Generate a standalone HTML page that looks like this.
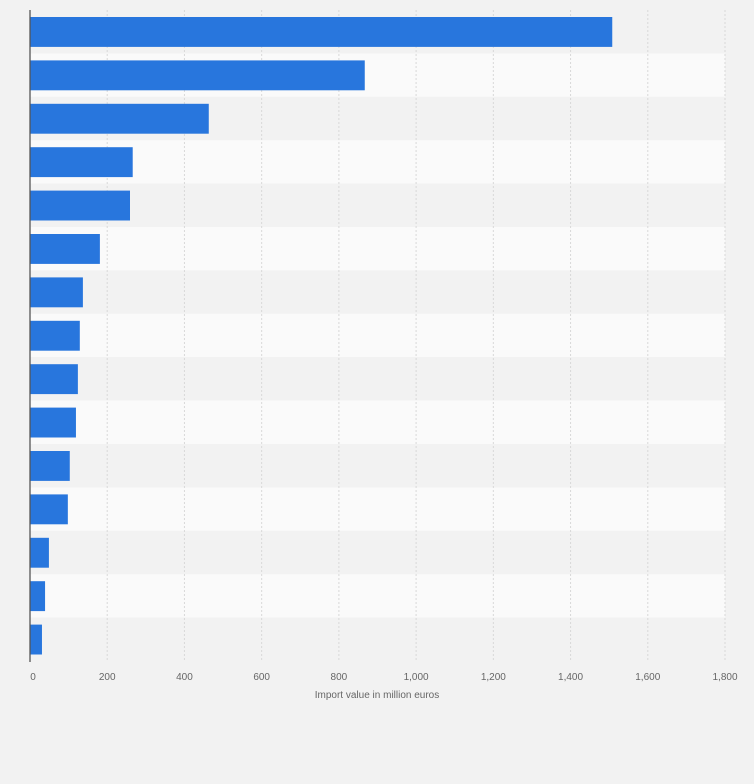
<!DOCTYPE html>
<html><head><meta charset="utf-8"><style>
body{margin:0;background:#f2f2f2;font-family:"Liberation Sans",sans-serif}
</style></head><body>
<svg id="c" width="754" height="779" xmlns="http://www.w3.org/2000/svg"></svg>
<script>
const categories=["c1","c2","c3","c4","c5","c6","c7","c8","c9","c10","c11","c12","c13","c14","c15"];
const values=[1508,867,463,266,259,181,137,129,124,119,103,98,49,39,31];
const ticks=[0,200,400,600,800,1000,1200,1400,1600,1800];
const tickLabels=["0","200","400","600","800","1,000","1,200","1,400","1,600","1,800"];
const NS="http://www.w3.org/2000/svg";
const svg=document.getElementById('c');
const x0=30,x1=725,y0=10,y1=661,maxV=1800;
const bh=(y1-y0)/categories.length;
const X=v=>x0+(v/maxV)*(x1-x0);
function mk(t,a){const e=document.createElementNS(NS,t);for(const k in a)e.setAttribute(k,a[k]);svg.appendChild(e);return e;}
categories.forEach((c,i)=>{
 const r=mk('rect',{x:x0,y:y0+i*bh,width:x1-x0,height:bh,fill:i%2?'#fafafa':'#f2f2f2'});
 
 
});
ticks.forEach((t,i)=>{
 if(i>0){const l=mk('line',{x1:X(t),x2:X(t),y1:y0,y2:y1,stroke:'#d8d8d8','stroke-dasharray':'2,2'});
 
 }
 const tx=mk('text',{x:X(t)+(i==0?3:0),y:680,'font-size':'10',fill:'#666','text-anchor':'middle'});
 tx.textContent=tickLabels[i];
 
 
});
values.forEach((v,i)=>{
 const r=mk('rect',{x:x0,y:y0+i*bh+7,width:X(v)-x0,height:bh-13.5,fill:'#2876dd'});
 
 
});
const ax=mk('line',{x1:x0,x2:x0,y1:y0,y2:y1+1,stroke:'#555','stroke-width':1.3});


const tt=mk('text',{x:377,y:698,'font-size':'10',fill:'#666','text-anchor':'middle'});
tt.textContent='Import value in million euros';


</script>
</body></html>
